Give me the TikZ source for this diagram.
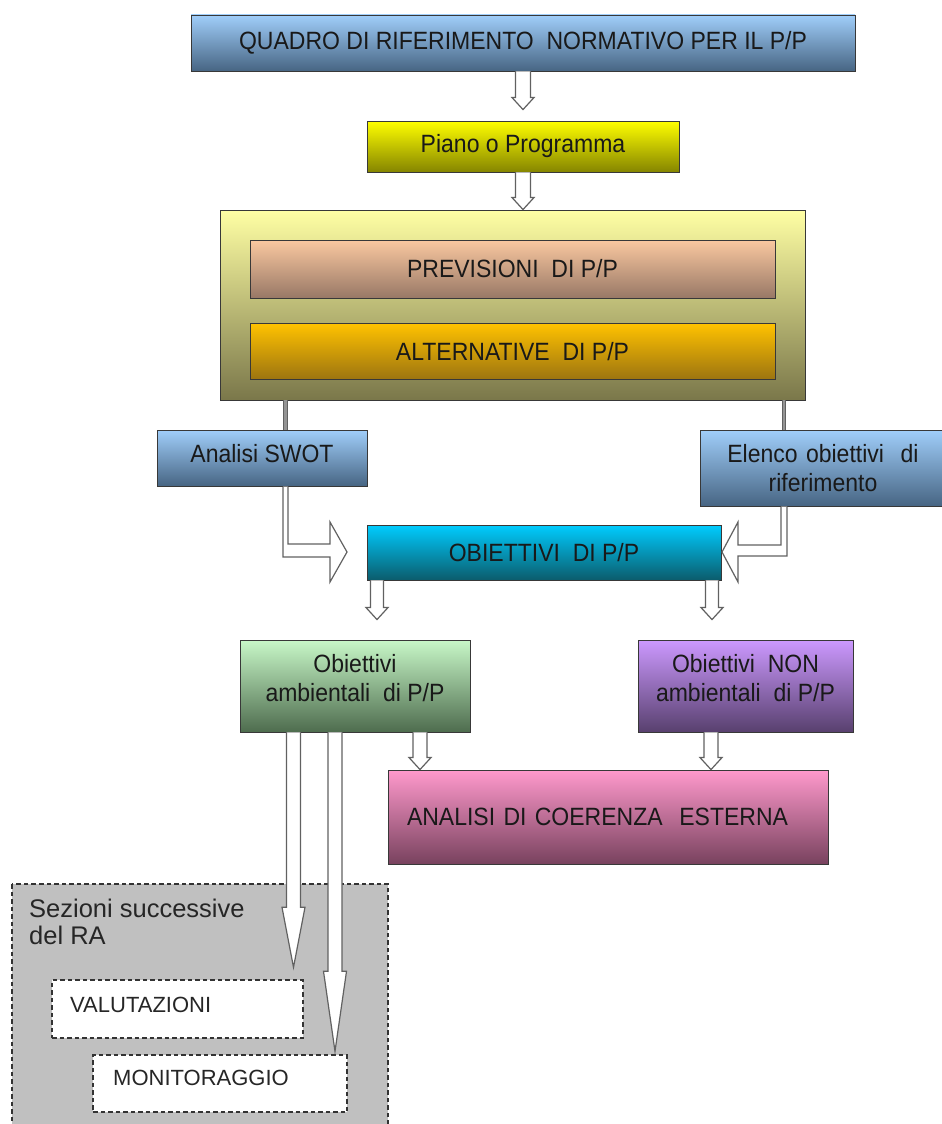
\documentclass[tikz,border=0pt]{standalone}
\usepackage{fontspec}
\setmainfont{Liberation Sans}[FakeStretch=0.92]
\newfontfamily\graysans{Liberation Sans}
\usetikzlibrary{calc}
\definecolor{blueT}{HTML}{A0CEFA}
\definecolor{blueB}{HTML}{476583}
\definecolor{yelT}{HTML}{FFFF00}
\definecolor{yelB}{HTML}{858500}
\definecolor{bigT}{HTML}{FFFFA4}
\definecolor{bigB}{HTML}{7A774A}
\definecolor{preT}{HTML}{FAC8A0}
\definecolor{preB}{HTML}{987866}
\definecolor{altT}{HTML}{FFC200}
\definecolor{altB}{HTML}{9C7410}
\definecolor{objT}{HTML}{00CCFF}
\definecolor{objB}{HTML}{0B5C6C}
\definecolor{grnT}{HTML}{C8F8C8}
\definecolor{grnB}{HTML}{4E6C4E}
\definecolor{purT}{HTML}{CC99FF}
\definecolor{purB}{HTML}{58406E}
\definecolor{pnkT}{HTML}{FF99CC}
\definecolor{pnkB}{HTML}{78425E}
\definecolor{grayfill}{HTML}{C0C0C0}
\tikzset{
  gbox/.style 2 args={draw=black!78, line width=0.9pt, top color=#1, bottom color=#2,
    inner sep=0pt, align=center, font=\fontsize{25}{29}\selectfont, text=black!90},
  txt/.style={inner sep=0pt, align=center, font=\fontsize{25}{29.5}\selectfont, text=black!90},
  hollow/.style={draw=black!62, line width=1.2pt, fill=white, line join=miter},
  conn/.style={draw=black!62, line width=1pt, double=black!42, double distance=2.4pt},
  dbox/.style={draw=black!80, dash pattern=on 4.5pt off 3pt, line width=1.4pt},
  gtext/.style={font=\graysans\fontsize{22}{26}\selectfont, text=black!85, inner sep=0pt, anchor=base west},
}
\newcommand{\hdarrow}[5]{\draw[hollow] let \p1=#1, \p2=#2 in
  (\x1-#3,\y1) -- (\x1-#3,\y2+#5) -- (\x1-#4,\y2+#5) -- (\x1,\y2) --
  (\x1+#4,\y2+#5) -- (\x1+#3,\y2+#5) -- (\x1+#3,\y1);}
\begin{document}
\begin{tikzpicture}[x=1pt,y=-1pt]
\useasboundingbox (0,0) rectangle (942,1124);
\begin{scope}
\clip (0,0) rectangle (942,1124);
\fill[white] (0,0) rectangle (942,1124);
% boxes
\node[gbox={blueT}{blueB}, minimum width=664pt, minimum height=56pt] (quadro) at (523,43)
  {QUADRO DI RIFERIMENTO\ \ NORMATIVO PER IL P/P};
\node[gbox={yelT}{yelB}, minimum width=312pt, minimum height=51pt] (piano) at (523,146.5)
  {Piano o Programma};
\node[gbox={bigT}{bigB}, minimum width=585pt, minimum height=190pt] (big) at (512.5,305) {};
\node[gbox={preT}{preB}, minimum width=525pt, minimum height=58pt] (prev) at (512.5,269)
  {PREVISIONI\ \ DI P/P};
\node[gbox={altT}{altB}, minimum width=525pt, minimum height=56pt] (alt) at (512.5,351.5)
  {ALTERNATIVE\ \ DI P/P};
\node[gbox={blueT}{blueB}, minimum width=210pt, minimum height=56pt] (swot) at (262,458) {};
\node[txt] (swottxt) at (262,454) {Analisi SWOT};
\node[gbox={blueT}{blueB}, minimum width=246pt, minimum height=76pt, text width=240pt] (elenco) at (823,468)
  {Elenco obiettivi\ \ di\\riferimento};
\node[gbox={objT}{objB}, minimum width=354pt, minimum height=55pt] (obj) at (544,552.5)
  {OBIETTIVI\ \ DI P/P};
\node[gbox={grnT}{grnB}, minimum width=230pt, minimum height=92pt] (green) at (355,686) {};
\node[txt] (greentxt) at (355,678) {Obiettivi\\ambientali\ \ di P/P};
\node[gbox={purT}{purB}, minimum width=215pt, minimum height=92pt] (purple) at (745.5,686) {};
\node[txt] (purpletxt) at (745.5,678) {Obiettivi\ \ NON\\ambientali\ \ di P/P};
\node[gbox={pnkT}{pnkB}, minimum width=440pt, minimum height=94pt, text width=402pt,
  align=left, inner xsep=19pt] (pink) at (608,817)
  {ANALISI DI COERENZA\ \ ESTERNA};
% grey section
\draw[dbox, fill=grayfill] (12,884) rectangle (388,1135);
\node[gtext, font=\graysans\fontsize{25.5}{27}\selectfont, align=left, anchor=north west] (sez) at (29,899)
  {Sezioni successive\\del RA};
\node[dbox, fill=white, minimum width=251pt, minimum height=58pt] (valut) at (177.5,1009) {};
\node[gtext] (valtxt) at (70,1012) {VALUTAZIONI};
\node[dbox, fill=white, minimum width=254pt, minimum height=57pt] (monit) at (220,1083.5) {};
\node[gtext] (montxt) at (113,1085) {MONITORAGGIO};
% connectors
\hdarrow{(quadro.south)}{($(piano.north)+(0,-11)$)}{7.5pt}{11pt}{12pt}
\hdarrow{(piano.south)}{(big.north)}{7.5pt}{11pt}{12pt}
\coordinate (lx) at (285.5,0);
\coordinate (rx) at (784,0);
\draw[conn] (big.south -| lx) -- (swot.north -| lx);
\draw[conn] (big.south -| rx) -- (elenco.north -| rx);
% bent arrows
\draw[hollow] (283,486.5) -- (283,557) -- (330,557) -- (330,582) -- (347,552) -- (330,522)
  -- (330,544) -- (288,544) -- (288,486.5);
\draw[hollow] (787,506.5) -- (787,556) -- (738,556) -- (738,582) -- (722,552) -- (738,522)
  -- (738,545) -- (781,545) -- (781,506.5);
% arrows below OBIETTIVI
\coordinate (ax1) at (377,0);
\coordinate (ax2) at (712,0);
\hdarrow{(obj.south -| ax1)}{($(green.north -| ax1)+(0,-20)$)}{6.5pt}{11pt}{12pt}
\hdarrow{(obj.south -| ax2)}{($(purple.north -| ax2)+(0,-20)$)}{6.5pt}{11pt}{12pt}
% arrows to ANALISI
\coordinate (bx1) at (420,0);
\coordinate (bx2) at (711,0);
\hdarrow{(green.south -| bx1)}{(pink.north -| bx1)}{7pt}{11pt}{12pt}
\hdarrow{(purple.south -| bx2)}{(pink.north -| bx2)}{7pt}{11pt}{12pt}
% long arrows
\coordinate (cx1) at (293.5,0);
\coordinate (cx2) at (335,0);
\hdarrow{(green.south -| cx1)}{($(valut.north -| cx1)+(0,-12)$)}{7pt}{11.5pt}{60pt}
\hdarrow{(green.south -| cx2)}{($(monit.north -| cx2)+(0,-3)$)}{7pt}{11.5pt}{80pt}
\end{scope}
\end{tikzpicture}
\end{document}
